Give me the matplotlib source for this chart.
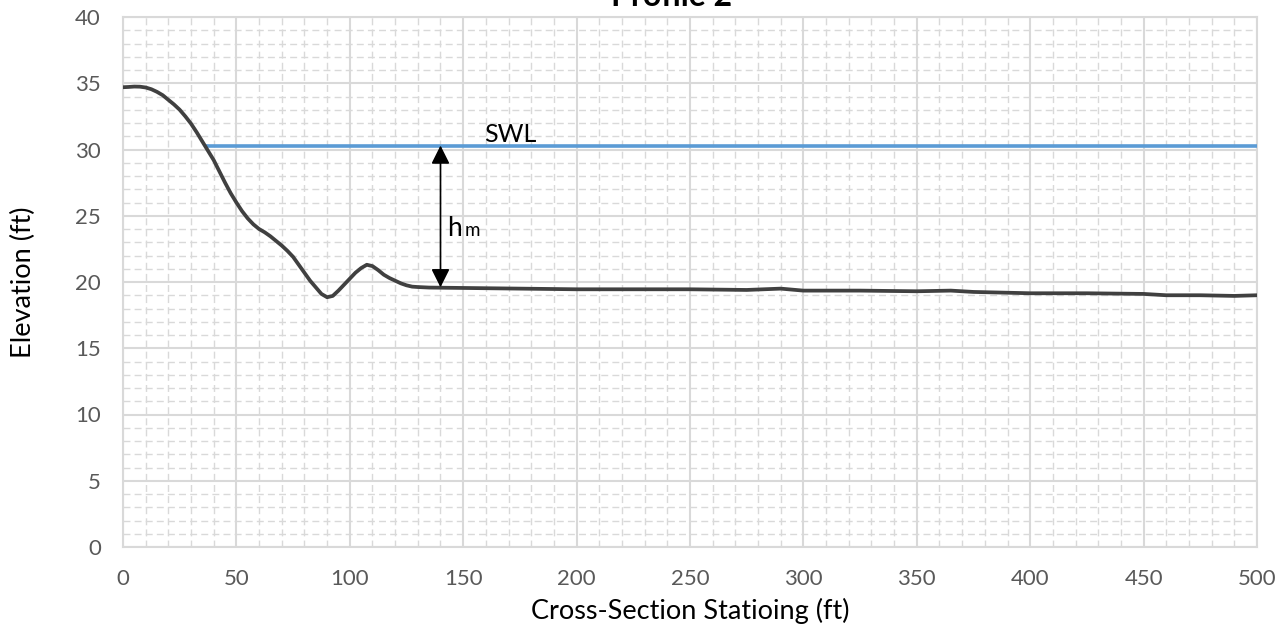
import matplotlib.pyplot as plt
from matplotlib.ticker import MultipleLocator

plt.rcParams['font.family'] = ['Lato', 'DejaVu Sans']

# ground profile (station ft, elevation ft)
station = [0, 2.5, 5, 7.5, 10, 12.5, 15, 17.5, 20, 22.5, 25, 27.5, 30, 32.5, 35,
           37.5, 40, 42.5, 45, 47.5, 50, 52.5, 55, 57.5, 60, 62.5, 65, 67.5, 70,
           72.5, 75, 77.5, 80, 82.5, 85, 87.5, 90, 92.5, 95, 97.5, 100, 102.5, 105,
           107.5, 110, 112.5, 115, 117.5, 120, 122.5, 125, 127.5, 130, 135, 140,
           150, 175, 200, 225, 250, 275, 290, 300, 325, 350, 365, 375, 400, 425,
           450, 460, 475, 490, 500]
elevation = [34.7, 34.72, 34.75, 34.74, 34.68, 34.55, 34.35, 34.1, 33.75, 33.4,
             33.0, 32.5, 31.95, 31.3, 30.6, 29.9, 29.2, 28.35, 27.5, 26.7, 26.0,
             25.35, 24.8, 24.35, 24.0, 23.75, 23.45, 23.1, 22.75, 22.35, 21.9,
             21.3, 20.7, 20.1, 19.6, 19.1, 18.85, 18.95, 19.35, 19.8, 20.25, 20.7,
             21.05, 21.3, 21.2, 20.9, 20.55, 20.3, 20.1, 19.9, 19.75, 19.65, 19.62,
             19.58, 19.57, 19.55, 19.5, 19.45, 19.45, 19.45, 19.4, 19.5, 19.35,
             19.35, 19.3, 19.35, 19.25, 19.15, 19.15, 19.1, 19.0, 19.0, 18.95, 19.0]

swl_x = [36, 500]
swl_y = [30.3, 30.3]
hm_station = 140
hm_bottom = 19.6

fig = plt.figure(figsize=(12.85, 6.25), dpi=100)
ax = fig.add_axes([0.0957, 0.1248, 0.8825, 0.848])

grid_c = '#D9D9D9'
ax.set_xlim(0, 500)
ax.set_ylim(0, 40)
ax.xaxis.set_major_locator(MultipleLocator(50))
ax.xaxis.set_minor_locator(MultipleLocator(10))
ax.yaxis.set_major_locator(MultipleLocator(5))
ax.yaxis.set_minor_locator(MultipleLocator(1))
ax.grid(which='major', color=grid_c, lw=1.5, ls='-')
ax.grid(which='minor', color=grid_c, lw=1.0, ls=(0, (5, 3)))
ax.set_axisbelow(True)
for s in ax.spines.values():
    s.set_color(grid_c)
    s.set_linewidth(1.5)
ax.tick_params(which='both', length=0, labelsize=16, labelcolor='#595959')
ax.tick_params(axis='x', pad=16)
ax.tick_params(axis='y', pad=16)

ax.plot(swl_x, swl_y, color='#5B9BD5', lw=2.6, solid_capstyle='butt', zorder=3)
ax.plot(station, elevation, color='#404040', lw=2.7, zorder=4)

ax.annotate('', xy=(hm_station, swl_y[0]), xytext=(hm_station, hm_bottom),
            arrowprops=dict(arrowstyle='<|-|>', color='black', lw=1.2,
                            mutation_scale=28, shrinkA=0, shrinkB=0), zorder=5)
ax.text(171, 30.55, 'SWL', ha='center', va='baseline', fontsize=18, color='black')
ax.text(143, 23.5, 'h', ha='left', va='baseline', fontsize=19, color='black')
ax.text(150.5, 23.5, 'm', ha='left', va='baseline', fontsize=13.5, color='black')

ax.set_xlabel('Cross-Section Statioing (ft)', fontsize=19.5, color='black', labelpad=6)
ax.set_ylabel('Elevation (ft)', fontsize=19.5, color='black', labelpad=28)
fig.text(0.523, 1 - 6 / 625, 'Profile 2', ha='center', va='baseline',
         fontsize=23, fontweight='bold', color='black')

fig.savefig('out.png', dpi=100)
